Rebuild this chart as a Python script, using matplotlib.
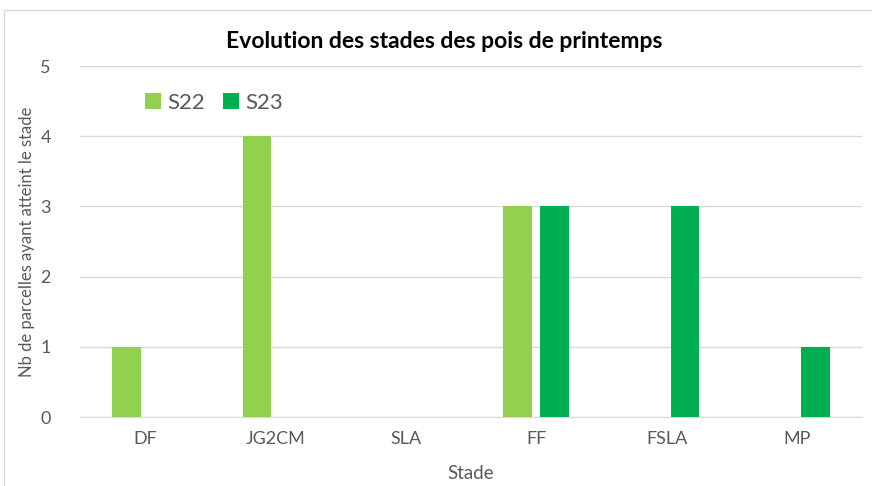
import matplotlib
matplotlib.use("Agg")
import matplotlib.pyplot as plt
import numpy as np
from matplotlib.patches import Rectangle

# Données
stades = ["DF", "JG2CM", "SLA", "FF", "FSLA", "MP"]
s22 = [1, 4, 0, 3, 0, 0]
s23 = [0, 0, 0, 3, 3, 1]

vert_clair = "#92D050"
vert_fonce = "#00B050"
gris_txt = "#595959"
gris_grille = "#D9D9D9"

plt.rcParams["font.family"] = ["Lato", "DejaVu Sans"]

fig = plt.figure(figsize=(8.72, 4.86), dpi=100)
ax = fig.add_axes([80 / 872, 1 - 417 / 486, 782 / 872, 351 / 486])

# cadre du graphique
fig.patches.append(Rectangle((4 / 872, -0.1), 1.2, 1.1 - 10 / 486, transform=fig.transFigure,
                             fill=False, edgecolor="#D9D9D9", linewidth=1))

x = np.arange(len(stades))
w = 0.22
ax.bar(x - 0.142, s22, w, color=vert_clair, label="S22", zorder=3)
ax.bar(x + 0.142, s23, w, color=vert_fonce, label="S23", zorder=3)

ax.set_xlim(-0.5, len(stades) - 0.5)
ax.set_ylim(0, 5)
ax.set_yticks(range(6))
ax.set_xticks(x)
ax.set_xticklabels(stades)
ax.yaxis.grid(True, color=gris_grille, linewidth=1)
ax.set_axisbelow(True)
for s in ["top", "right", "left"]:
    ax.spines[s].set_visible(False)
ax.spines["bottom"].set_color(gris_grille)
ax.tick_params(axis="both", length=0, colors=gris_txt, labelsize=13)
ax.tick_params(axis="x", pad=10)
ax.tick_params(axis="y", pad=21)

ax.set_xlabel("Stade", fontsize=13.5, color=gris_txt, labelpad=13)
ax.set_ylabel("Nb de parcelles ayant atteint le stade", fontsize=12, color=gris_txt, labelpad=4)

fig.text(0.51, 1 - 42 / 486, "Evolution des stades des pois de printemps", ha="center", va="center",
         fontsize=16.5, fontweight="bold", color="black")

leg = ax.legend(loc="upper left", bbox_to_anchor=(0.058, 0.98), ncol=2, frameon=False,
                fontsize=16, handlelength=0.7, handleheight=0.7, handletextpad=0.3, columnspacing=0.8)
for t in leg.get_texts():
    t.set_color(gris_txt)

fig.savefig("out.png", dpi=100)
